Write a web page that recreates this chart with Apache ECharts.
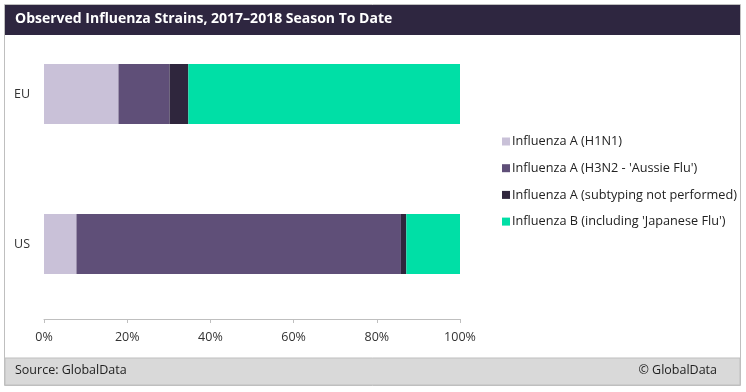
<!DOCTYPE html>
<html><head><meta charset="utf-8">
<script src="https://cdn.jsdelivr.net/npm/echarts@6/dist/echarts.min.js"></script>
<style>html,body{margin:0;padding:0;background:#fff}#c{width:746px;height:392px}</style>
</head><body><div id="c"></div>
<script>
const categories = ['EU', 'US'];
const seriesNames = ['Influenza A (H1N1)', "Influenza A (H3N2 - 'Aussie Flu')", 'Influenza A (subtyping not performed)', "Influenza B (including 'Japanese Flu')"];
const h1n1 = [17.9, 7.8];
const h3n2 = [12.3, 78.0];
const notSubtyped = [4.5, 1.3];
const fluB = [65.3, 12.9];
const xTicks = [0, 20, 40, 60, 80, 100];
const colors = ['#C9C1D8', '#5F4F78', '#2F263D', '#00DFA6'];
const values = [h1n1, h3n2, notSubtyped, fluB];
const font = 'Open Sans';

const chart = echarts.init(document.getElementById('c'));
chart.setOption({
  animation: false,
  textStyle: { fontFamily: font },
  graphic: [
    { type: 'rect', shape: { x: 4.5, y: 4.5, width: 736, height: 381 }, style: { fill: '#fff', stroke: '#BFBFBF', lineWidth: 1 }, z: -10 },
    { type: 'rect', shape: { x: 5, y: 5, width: 735, height: 30 }, style: { fill: '#2E2640' }, z: -9 },
    { type: 'rect', shape: { x: 5, y: 358, width: 735, height: 27 }, style: { fill: '#D9D9D9', stroke: '#BFBFBF', lineWidth: 1 }, z: -9 },
    { type: 'text', left: 15, top: 364, style: { text: 'Source: GlobalData', fill: '#222', font: '12.5px "' + font + '"' } },
    { type: 'text', right: 29, top: 364, style: { text: '© GlobalData', fill: '#222', font: '12.5px "' + font + '"' } }
  ],
  title: {
    text: 'Observed Influenza Strains, 2017\u20132018 Season To Date',
    left: 10, top: 12, padding: [0, 0, 0, 5],
    textStyle: { color: '#fff', fontSize: 14, fontWeight: 'bold', fontFamily: font }
  },
  legend: {
    orient: 'vertical', left: 497, top: 130, itemWidth: 8, itemHeight: 8, itemGap: 13.7,
    icon: 'rect',
    textStyle: { fontSize: 12.7, color: '#222', padding: [0, 0, 0, -3] },
    data: seriesNames
  },
  grid: { left: 44, width: 416, top: 19, bottom: 73, containLabel: false },
  xAxis: {
    type: 'value', min: 0, max: 100, interval: 20,
    axisLine: { show: true, lineStyle: { color: '#BFBFBF' } },
    axisTick: { show: true, length: 4, lineStyle: { color: '#BFBFBF' } },
    splitLine: { show: false },
    axisLabel: { formatter: v => xTicks.includes(v) ? v + '%' : '', color: '#333', fontSize: 12.5, margin: 12 }
  },
  yAxis: {
    type: 'category', data: categories, inverse: true,
    axisLine: { show: false }, axisTick: { show: false },
    axisLabel: { color: '#333', fontSize: 12.5, margin: 14 }
  },
  series: seriesNames.map((n, i) => ({
    name: n, type: 'bar', stack: 'total', data: values[i], barWidth: 60,
    itemStyle: { color: colors[i] }
  }))
});
</script></body></html>
